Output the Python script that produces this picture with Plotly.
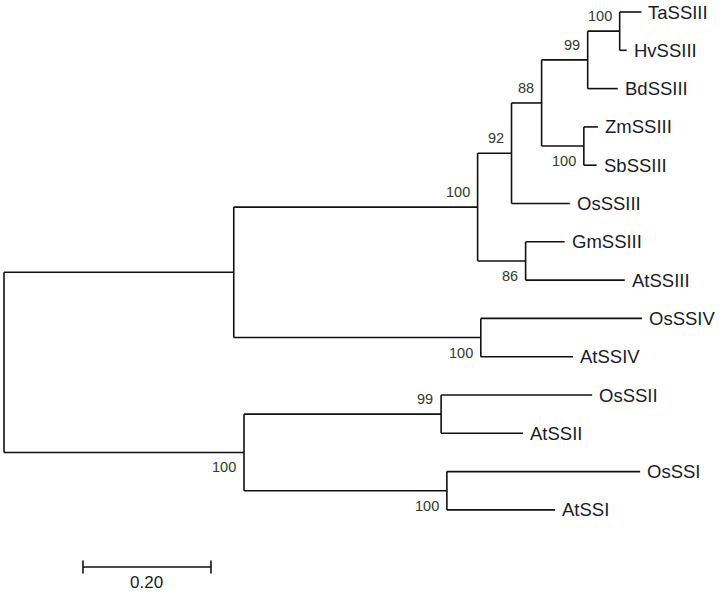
import plotly.graph_objects as go

# ---- Tree data (topology, branch lengths in substitutions/site, bootstrap) ----
node_ids = ["root", "A", "SSIII", "n92", "n88", "n99", "nTaHv", "nZmSb", "n86",
            "SSIV", "B", "SSII", "SSI",
            "TaSSIII", "HvSSIII", "BdSSIII", "ZmSSIII", "SbSSIII", "OsSSIII",
            "GmSSIII", "AtSSIII", "OsSSIV", "AtSSIV", "OsSSII", "AtSSII",
            "OsSSI", "AtSSI"]
parents = [None, "root", "A", "SSIII", "n92", "n88", "n99", "n88", "SSIII",
           "A", "root", "B", "B",
           "nTaHv", "nTaHv", "n99", "nZmSb", "nZmSb", "n92",
           "n86", "n86", "SSIV", "SSIV", "SSII", "SSII",
           "SSI", "SSI"]
branch_lengths = [0.0, 0.359, 0.381, 0.053, 0.047, 0.072, 0.050, 0.066, 0.075,
                  0.386, 0.375, 0.308, 0.317,
                  0.034, 0.011, 0.047, 0.022, 0.020, 0.091,
                  0.061, 0.155, 0.252, 0.144, 0.236, 0.128,
                  0.302, 0.169]
bootstrap = [None, None, 100, 92, 88, 99, 100, 100, 86,
             100, 100, 99, 100] + [None] * 14
leaf_order = ["TaSSIII", "HvSSIII", "BdSSIII", "ZmSSIII", "SbSSIII", "OsSSIII",
              "GmSSIII", "AtSSIII", "OsSSIV", "AtSSIV", "OsSSII", "AtSSII",
              "OsSSI", "AtSSI"]
scale_bar_length = 0.20
scale_bar_label = "0.20"

# ---- Layout computation from the tree ----
par = dict(zip(node_ids, parents))
blen = dict(zip(node_ids, branch_lengths))
boot = dict(zip(node_ids, bootstrap))
children = {n: [c for c in node_ids if par[c] == n] for n in node_ids}

xpos = {}
def set_x(n, x):
    xpos[n] = x
    for c in children[n]:
        set_x(c, x + blen[c])
set_x("root", 0.0)

ypos = {}
def set_y(n):
    if not children[n]:
        ypos[n] = leaf_order.index(n)
    else:
        for c in children[n]:
            set_y(c)
        ys = [ypos[c] for c in children[n]]
        ypos[n] = (min(ys) + max(ys)) / 2
set_y("root")

lx, ly = [], []
for n in node_ids:
    p = par[n]
    if p is not None:
        lx += [xpos[p], xpos[n], None]
        ly += [ypos[n], ypos[n], None]
    if children[n]:
        ys = [ypos[c] for c in children[n]]
        lx += [xpos[n], xpos[n], None]
        ly += [min(ys), max(ys), None]

line_style = dict(color="#111111", width=1.6)
fig = go.Figure()
fig.add_trace(go.Scatter(x=lx, y=ly, mode="lines", line=line_style,
                         hoverinfo="skip", showlegend=False))

# scale bar
sb_x0 = 0.1234
sb_y = 14.49
fig.add_trace(go.Scatter(x=[sb_x0, sb_x0 + scale_bar_length], y=[sb_y, sb_y],
                         mode="lines", line=line_style,
                         hoverinfo="skip", showlegend=False))
for xe in (sb_x0, sb_x0 + scale_bar_length):
    fig.add_trace(go.Scatter(x=[xe, xe], y=[sb_y - 0.17, sb_y + 0.17],
                             mode="lines", line=line_style,
                             hoverinfo="skip", showlegend=False))

font_family = "Liberation Sans, Arial, sans-serif"
annotations = []
for n in leaf_order:
    annotations.append(dict(x=xpos[n], y=ypos[n], text=n, showarrow=False,
                            xanchor="left", yanchor="middle", xshift=5,
                            font=dict(family=font_family, size=18.5, color="#1a1a26")))
for n in node_ids:
    if boot[n] is None:
        continue
    p = par[n]
    sibs = [ypos[c] for c in children[p]]
    above = ypos[n] <= min(sibs)
    annotations.append(dict(x=xpos[n], y=ypos[n], text=str(boot[n]), showarrow=False,
                            xanchor="right", yanchor="middle", xshift=-6,
                            yshift=15 if above else -15,
                            font=dict(family=font_family, size=14.5, color="#2e3b2a")))
annotations.append(dict(x=sb_x0 + scale_bar_length / 2, y=sb_y, text=scale_bar_label,
                        showarrow=False, xanchor="center", yanchor="middle", yshift=-16,
                        font=dict(family=font_family, size=17, color="#1a1a26")))

px_per_unit = 640.0
root_px = 4
leaf0_px = 12
leaf_step = 38.3
W, H = 724, 593
fig.update_layout(
    width=W, height=H,
    margin=dict(l=0, r=0, t=0, b=0),
    paper_bgcolor="white", plot_bgcolor="white",
    xaxis=dict(range=[(0 - root_px) / px_per_unit, (W - root_px) / px_per_unit],
               visible=False, fixedrange=True),
    yaxis=dict(range=[(H - leaf0_px) / leaf_step, (0 - leaf0_px) / leaf_step],
               visible=False, fixedrange=True),
    annotations=annotations,
    showlegend=False,
)
fig.write_html("out.html", config={"displayModeBar": False},
               post_script="document.body.style.margin='0';document.body.style.overflow='hidden';")
